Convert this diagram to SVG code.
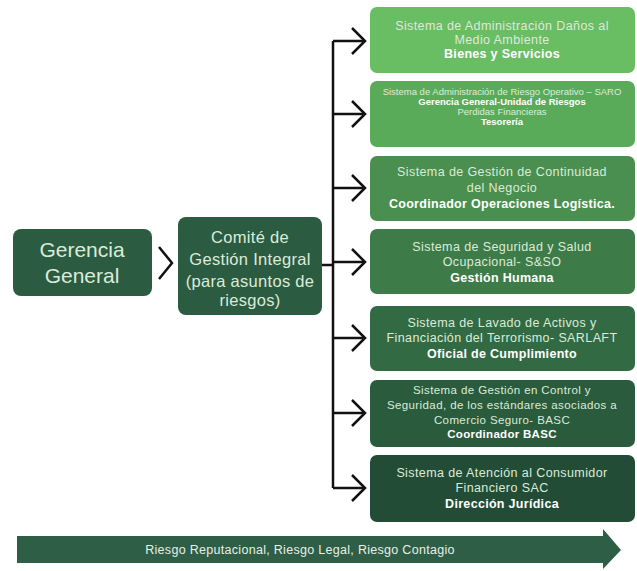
<svg xmlns="http://www.w3.org/2000/svg" width="637" height="571" viewBox="0 0 637 571">
<style>
  text { font-family: "Liberation Sans", "Noto Sans", Arial, sans-serif; text-anchor: middle; }
  .t { fill: #dcebd9; font-size: 12.5px; letter-spacing: 0.4px; }
  .b { fill: #ffffff; font-size: 12.5px; font-weight: bold; letter-spacing: 0.3px; }
  .n { font-size: 11.5px; }
  .s { fill: #dcebd9; font-size: 9.5px; }
  .sb { fill: #ffffff; font-size: 9.5px; font-weight: bold; }
  .big { fill: #dcebd9; font-size: 21px; }
  .mid { fill: #dcebd9; font-size: 16.5px; letter-spacing: 0.3px; }
  .line { stroke: #111; stroke-width: 2.5; fill: none; }
  .chev { stroke: #111; stroke-width: 2.5; fill: none; stroke-linejoin: miter; }
</style>
<rect width="637" height="571" fill="#ffffff"/>

<g id="connectors">
  <path class="line" d="M333,41 V488"/>
  <path class="line" d="M322,265 H333"/>
  <path class="line" d="M333,41 H363 M333,114 H363 M333,188 H363 M333,262 H363 M333,338 H363 M333,413 H363 M333,488 H363"/>
  <path class="chev" d="M352,28 L365,41 L352,54"/>
  <path class="chev" d="M352,101 L365,114 L352,127"/>
  <path class="chev" d="M352,175 L365,188 L352,201"/>
  <path class="chev" d="M352,249 L365,262 L352,275"/>
  <path class="chev" d="M352,325 L365,338 L352,351"/>
  <path class="chev" d="M352,400 L365,413 L352,426"/>
  <path class="chev" d="M352,475 L365,488 L352,501"/>
  <path class="chev" d="M159,247 L172,263 L159,279"/>
</g>

<g id="gerencia">
  <rect x="13" y="229" width="139" height="67" rx="8" fill="#2b5b41"/>
  <text class="big" x="82" y="257">Gerencia</text>
  <text class="big" x="82" y="283">General</text>
</g>

<g id="comite">
  <rect x="178" y="217" width="144" height="98" rx="8" fill="#2b5b41"/>
  <text class="mid" x="250" y="243">Comité de</text>
  <text class="mid" x="250" y="265">Gestión Integral</text>
  <text class="mid" x="250" y="287">(para asuntos de</text>
  <text class="mid" x="250" y="306">riesgos)</text>
</g>

<g id="sistema1">
  <rect x="370" y="7" width="265" height="66" rx="7" fill="#69bd63"/>
  <text class="t" x="502" y="30">Sistema de Administración Daños al</text>
  <text class="t" x="502" y="44">Medio Ambiente</text>
  <text class="b" x="502" y="58">Bienes y Servicios</text>
</g>

<g id="sistema2">
  <rect x="370" y="81" width="265" height="66" rx="7" fill="#5aab59"/>
  <text class="s" x="502" y="95">Sistema de Administración de Riesgo Operativo – SARO</text>
  <text class="sb" x="502" y="105">Gerencia General-Unidad de Riesgos</text>
  <text class="s" x="502" y="115">Perdidas Financieras</text>
  <text class="sb" x="502" y="125">Tesorería</text>
</g>

<g id="sistema3">
  <rect x="370" y="156" width="265" height="65" rx="7" fill="#4a8f4f"/>
  <text class="t" x="502" y="176">Sistema de Gestión de Continuidad</text>
  <text class="t" x="502" y="192">del Negocio</text>
  <text class="b" x="502" y="208">Coordinador Operaciones Logística.</text>
</g>

<g id="sistema4">
  <rect x="370" y="229" width="265" height="65" rx="7" fill="#3d7c48"/>
  <text class="t" x="502" y="251">Sistema de Seguridad y Salud</text>
  <text class="t" x="502" y="266">Ocupacional- S&amp;SO</text>
  <text class="b" x="502" y="282">Gestión Humana</text>
</g>

<g id="sistema5">
  <rect x="370" y="306" width="265" height="65" rx="7" fill="#326b43"/>
  <text class="t" x="502" y="327">Sistema de Lavado de Activos y</text>
  <text class="t" x="502" y="342">Financiación del Terrorismo- SARLAFT</text>
  <text class="b" x="502" y="358">Oficial de Cumplimiento</text>
</g>

<g id="sistema6">
  <rect x="370" y="380" width="265" height="67" rx="7" fill="#2a5b3c"/>
  <text class="t n" x="502" y="394">Sistema de Gestión en Control  y</text>
  <text class="t n" x="502" y="409">Seguridad, de los estándares asociados a</text>
  <text class="t n" x="502" y="424">Comercio Seguro- BASC</text>
  <text class="b n" x="502" y="438">Coordinador BASC</text>
</g>

<g id="sistema7">
  <rect x="370" y="455" width="265" height="67" rx="7" fill="#224c35"/>
  <text class="t" x="502" y="477">Sistema de Atención al Consumidor</text>
  <text class="t" x="502" y="492">Financiero SAC</text>
  <text class="b" x="502" y="508">Dirección Jurídica</text>
</g>

<g id="riesgos">
  <path d="M17,536 H603 V529 L621,550 L603,569 V563 H17 Z" fill="#2e5e45"/>
  <text x="300" y="554" style="fill:#e8f0e6;font-size:12.5px;letter-spacing:0.3px">Riesgo Reputacional, Riesgo Legal, Riesgo Contagio</text>
</g>
</svg>
